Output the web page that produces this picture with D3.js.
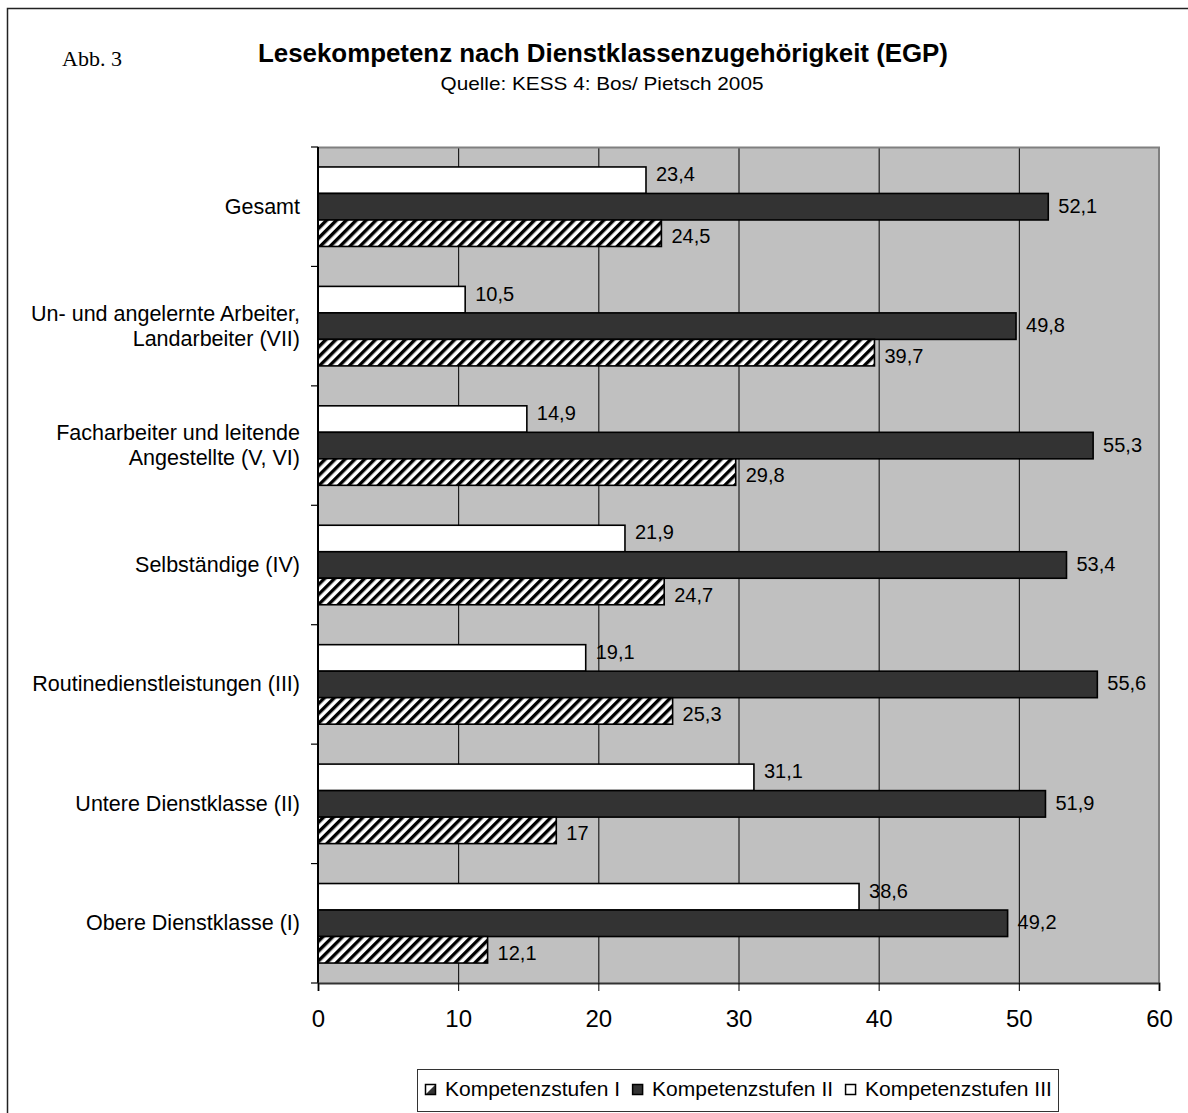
<!DOCTYPE html>
<html>
<head>
<meta charset="utf-8">
<script src="https://cdn.jsdelivr.net/npm/d3@7"></script>
<style>
  html, body { margin: 0; padding: 0; background: #ffffff; }
  svg { display: block; }
  text { font-family: "Liberation Sans", Arial, sans-serif; fill: #000; }
</style>
</head>
<body>
<svg id="chart" width="1188" height="1113"></svg>
<script>
// Reading competence by service class (EGP), KESS 4
const categories = [
  "Gesamt",
  "Un- und angelernte Arbeiter,\nLandarbeiter (VII)",
  "Facharbeiter und leitende\nAngestellte (V, VI)",
  "Selbständige (IV)",
  "Routinedienstleistungen (III)",
  "Untere Dienstklasse (II)",
  "Obere Dienstklasse (I)"
];
const seriesNames = ["Kompetenzstufen I", "Kompetenzstufen II", "Kompetenzstufen III"];
const stufeI   = [24.5, 39.7, 29.8, 24.7, 25.3, 17, 12.1];
const stufeII  = [52.1, 49.8, 55.3, 53.4, 55.6, 51.9, 49.2];
const stufeIII = [23.4, 10.5, 14.9, 21.9, 19.1, 31.1, 38.6];
const xTicks = [0, 10, 20, 30, 40, 50, 60];

const series = [
  { key: "III", name: seriesNames[2], values: stufeIII },
  { key: "II",  name: seriesNames[1], values: stufeII },
  { key: "I",   name: seriesNames[0], values: stufeI }
];

const svg = d3.select("#chart");

const defs = svg.append("defs");
defs.append("pattern")
  .attr("id", "hatch")
  .attr("patternUnits", "userSpaceOnUse")
  .attr("width", 7).attr("height", 7)
  .attr("patternTransform", "rotate(45)")
  .call(p => {
    p.append("rect").attr("width", 7).attr("height", 7).attr("fill", "#fff");
    p.append("rect").attr("x", 0).attr("width", 3.4).attr("height", 7).attr("fill", "#000");
  });

const barStyle = {
  III: { fill: "#ffffff", dy: -6 },
  II:  { fill: "#333333", dy: -1 },
  I:   { fill: "url(#hatch)", dy: 3 }
};

// Outer frame
svg.append("path")
  .attr("d", "M7.5,1113 V8.5 H1188")
  .attr("fill", "none").attr("stroke", "#222").attr("stroke-width", 1.5);

// Header
svg.append("text").attr("x", 62).attr("y", 66)
  .style("font-family", "'Liberation Serif', 'Times New Roman', serif")
  .style("font-size", "22px").text("Abb. 3");
svg.append("text").attr("x", 603).attr("y", 62).attr("text-anchor", "middle")
  .style("font-size", "25px").style("font-weight", "bold")
  .attr("textLength", 690).attr("lengthAdjust", "spacingAndGlyphs")
  .text("Lesekompetenz nach Dienstklassenzugehörigkeit (EGP)");
svg.append("text").attr("x", 602).attr("y", 90).attr("text-anchor", "middle")
  .style("font-size", "19px")
  .attr("textLength", 323).attr("lengthAdjust", "spacingAndGlyphs")
  .text("Quelle: KESS 4: Bos/ Pietsch 2005");

// Plot area
const pLeft = 318, pRight = 1159, pTop = 147, pBottom = 983;
const x = d3.scaleLinear().domain([0, 60]).range([pLeft, pRight]);
const y = d3.scaleBand().domain(categories).range([pTop, pBottom]).paddingInner(0).paddingOuter(0);
const yInner = d3.scaleBand().domain(series.map(s => s.key))
  .range([0, y.bandwidth()]).paddingInner(0).paddingOuter(0.753);

svg.append("rect").attr("x", pLeft).attr("y", pTop)
  .attr("width", pRight - pLeft).attr("height", pBottom - pTop)
  .attr("fill", "#c0c0c0");

// Vertical gridlines
svg.append("g").selectAll("line").data(xTicks.filter(t => t > 0 && t < 60)).join("line")
  .attr("x1", d => x(d) + 0.5).attr("x2", d => x(d) + 0.5)
  .attr("y1", pTop).attr("y2", pBottom)
  .attr("stroke", "#000").attr("stroke-width", 1);

// Plot border (top and right)
svg.append("path")
  .attr("d", `M${pLeft},${pTop + 0.5} H${pRight} V${pBottom}`)
  .attr("fill", "none").attr("stroke", "#808080").attr("stroke-width", 2);

// Bars
const groups = svg.append("g").selectAll("g").data(series).join("g");
groups.selectAll("rect").data(s => s.values.map((v, i) => ({ v, cat: categories[i], key: s.key }))).join("rect")
  .attr("x", x(0))
  .attr("y", d => y(d.cat) + yInner(d.key))
  .attr("width", d => x(d.v) - x(0))
  .attr("height", yInner.bandwidth())
  .attr("fill", d => barStyle[d.key].fill)
  .attr("stroke", "#000").attr("stroke-width", 1.6);

// Value labels
const fmt = v => String(v).replace(".", ",");
groups.selectAll("text").data(s => s.values.map((v, i) => ({ v, cat: categories[i], key: s.key }))).join("text")
  .attr("x", d => x(d.v) + 10)
  .attr("y", d => y(d.cat) + yInner(d.key) + yInner.bandwidth() / 2 + barStyle[d.key].dy)
  .attr("dominant-baseline", "central")
  .style("font-size", "20px")
  .text(d => fmt(d.v));

// Y axis
svg.append("line").attr("x1", pLeft).attr("x2", pLeft).attr("y1", pTop).attr("y2", pBottom)
  .attr("stroke", "#000").attr("stroke-width", 2);
// band boundary ticks
svg.append("g").selectAll("line").data(d3.range(categories.length + 1)).join("line")
  .attr("x1", pLeft - 7).attr("x2", pLeft)
  .attr("y1", i => pTop + i * y.step()).attr("y2", i => pTop + i * y.step())
  .attr("stroke", "#000").attr("stroke-width", 1.2);

// Category labels
svg.append("g").selectAll("text").data(categories).join("text")
  .attr("text-anchor", "end")
  .style("font-size", "21.5px")
  .each(function (d) {
    const lines = d.split("\n");
    const cy = y(d) + y.bandwidth() / 2;
    const lh = 25;
    d3.select(this).selectAll("tspan").data(lines).join("tspan")
      .attr("x", 300)
      .attr("y", (l, i) => cy + (i - (lines.length - 1) / 2) * lh)
      .attr("dominant-baseline", "central")
      .text(l => l);
  });

// X axis
const xAxis = d3.axisBottom(x).tickValues(xTicks).tickSize(8).tickPadding(19).tickFormat(d3.format("d"));
svg.append("g").attr("transform", `translate(0,${pBottom})`).call(xAxis)
  .call(g => g.select(".domain").attr("stroke", "#333").attr("stroke-width", 2))
  .call(g => g.selectAll(".tick line").attr("stroke", "#000"))
  .call(g => g.selectAll(".tick text").style("font-size", "24px")
    .style("font-family", "'Liberation Sans', Arial, sans-serif").attr("fill", "#000"));

// Legend
defs.append("linearGradient").attr("id", "hatchSmall")
  .attr("x1", 0).attr("y1", 0).attr("x2", 1).attr("y2", 1)
  .call(g => {
    g.append("stop").attr("offset", "0.45").attr("stop-color", "#fff");
    g.append("stop").attr("offset", "0.55").attr("stop-color", "#333");
  });
const legend = svg.append("g");
legend.append("rect").attr("x", 417.5).attr("y", 1069.5).attr("width", 641).attr("height", 42)
  .attr("fill", "#fff").attr("stroke", "#333").attr("stroke-width", 1);
const legendItems = [
  { name: seriesNames[0], fill: "url(#hatchSmall)" },
  { name: seriesNames[1], fill: "#333333" },
  { name: seriesNames[2], fill: "#ffffff" }
];
let lx = 425;
legendItems.forEach(item => {
  legend.append("rect").attr("x", lx + 0.5).attr("y", 1084.5).attr("width", 10).attr("height", 10)
    .attr("fill", item.fill).attr("stroke", "#000").attr("stroke-width", 1.5);
  const t = legend.append("text").attr("x", lx + 20).attr("y", 1096)
    .style("font-size", "21px").text(item.name);
  lx += 20 + t.node().getComputedTextLength() + 12;
});
</script>
</body>
</html>
